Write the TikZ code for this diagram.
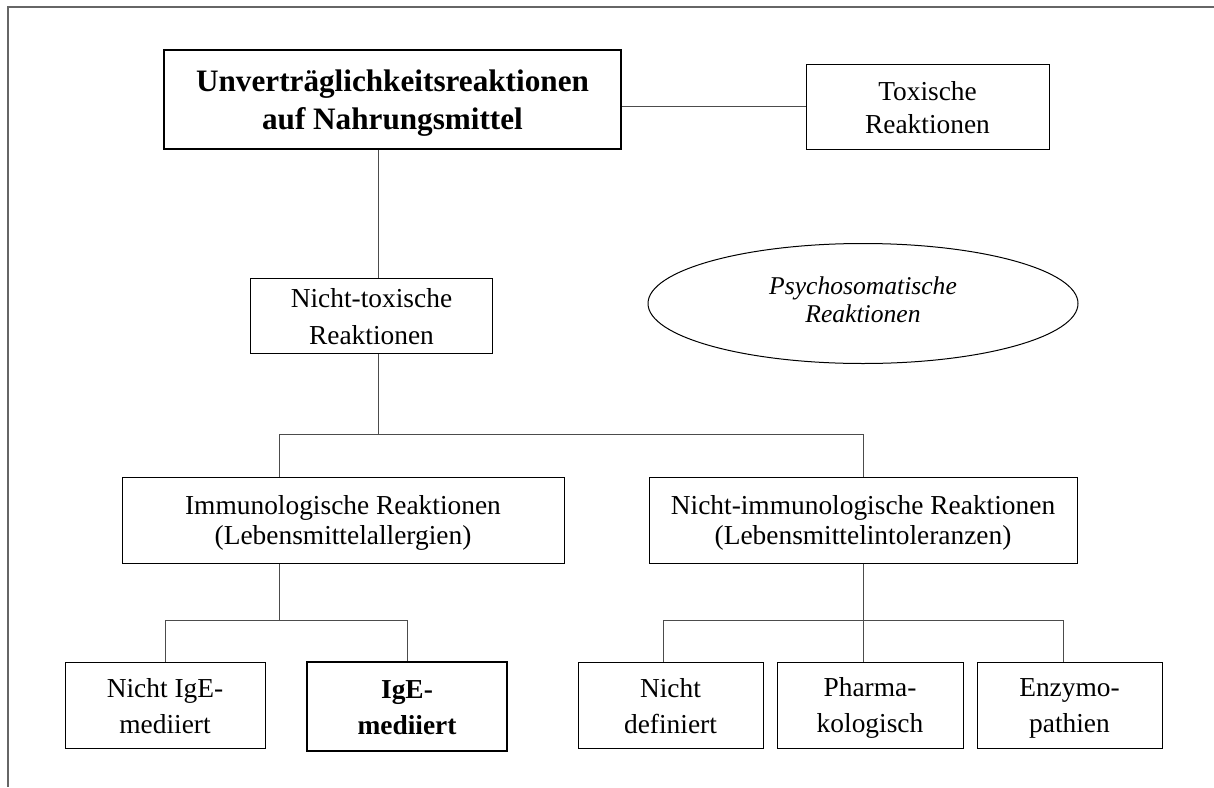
\documentclass[tikz,border=0pt]{standalone}
\usepackage{fontspec}
\setmainfont{Liberation Serif}
\usepackage{tikz}
\usetikzlibrary{positioning,shapes.geometric}

% two centred lines, baseline pair pushed a little below the middle
\newcommand{\twolines}[2]{\rule{0pt}{12pt}#1\\#2\rule[-2pt]{0pt}{2pt}}

\begin{document}
\begin{tikzpicture}[
  x=0.5pt, y=-0.5pt,
  font=\fontsize{13.7}{15}\selectfont,
  box/.style={
    draw, align=center, inner sep=0pt, line width=0.5pt,
    minimum height=43pt},
  leaf/.style={box, font=\fontsize{13.7}{18}\selectfont},
  keybox/.style={box, line width=1.1pt},
  oval/.style={draw, ellipse, align=center, line width=0.5pt, inner sep=0pt,
    minimum width=215pt, minimum height=60pt,
    font=\fontsize{12.8}{14}\selectfont\itshape},
  link/.style={draw=black!70, line width=0.5pt},
  frame/.style={draw=black!60, line width=0.6pt}
]
\useasboundingbox (0,0) rectangle (1214,787);
\draw[frame] (1214,7) -- (8,7) -- (8,787);

% top level
\node[keybox, minimum width=228.5pt, minimum height=49.5pt,
  font=\fontsize{15.6}{19}\selectfont\bfseries] (main) at (392.5,99.5)
  {\rule{0pt}{14pt}Unverträglichkeitsreaktionen\\auf Nahrungsmittel\rule[-2pt]{0pt}{2pt}};
\node[box, minimum width=121.5pt, minimum height=42.5pt,
  font=\fontsize{13.7}{16.5}\selectfont] (tox) at (927.5,106.5)
  {\twolines{Toxische}{Reaktionen}};
\node[box, minimum width=121pt, minimum height=37.5pt,
  font=\fontsize{13.7}{18.5}\selectfont] (ntox) at (371.5,315.5)
  {\twolines{Nicht-toxische}{Reaktionen}};
\node[oval] (psy) at (863,303.5) {Psychosomatische\\Reaktionen\rule[-4pt]{0pt}{4pt}};

% second level
\node[box, minimum width=221pt] (immun) at (343,520)
  {\twolines{Immunologische Reaktionen}{(Lebensmittelallergien)}};
\node[box, minimum width=214pt] (nimmun) at (863,520)
  {\twolines{Nicht-immunologische Reaktionen}{(Lebensmittelintoleranzen)}};

% leaves
\node[leaf, minimum width=100pt] (nige) at (165,705) {\twolines{Nicht IgE-}{mediiert}};
\node[leaf, keybox, font=\fontsize{13.7}{18}\selectfont\bfseries,
  minimum width=100pt, minimum height=44.5pt] (ige) at (407,706.5) {\twolines{IgE-}{mediiert}};
\node[leaf, minimum width=92.5pt] (ndef) at (670.5,705) {\twolines{Nicht}{definiert}};
\node[leaf, minimum width=93pt] (pharm) at (870,705) {\twolines{Pharma-}{kologisch}};
\node[leaf, minimum width=92.5pt] (enz) at (1069.5,705) {\twolines{Enzymo-}{pathien}};

% junctions
\coordinate (t0) at (378,434);
\coordinate (a1) at (279,434);
\coordinate (a2) at (863,434);
\coordinate (b0) at (279,620);
\coordinate (b2) at (407,620);
\coordinate (c0) at (863,620);
\coordinate (c1) at (663,620);
\coordinate (c3) at (1063,620);

\draw[link] (tox.west -| main.east) -- (tox.west);
\draw[link] (t0 |- main.south) -- (t0 |- ntox.north);
\draw[link] (t0 |- ntox.south) -- (t0);
\draw[link] (a1 |- immun.north) |- (a2) -- (a2 |- nimmun.north);
\draw[link] (b0 |- immun.south) -- (b0);
\draw[link] (nige.north) |- (b2) -- (ige.north);
\draw[link] (nimmun.south) -- (c0 |- pharm.north);
\draw[link] (c1 |- ndef.north) |- (c3) -- (c3 |- enz.north);

\end{tikzpicture}
\end{document}
